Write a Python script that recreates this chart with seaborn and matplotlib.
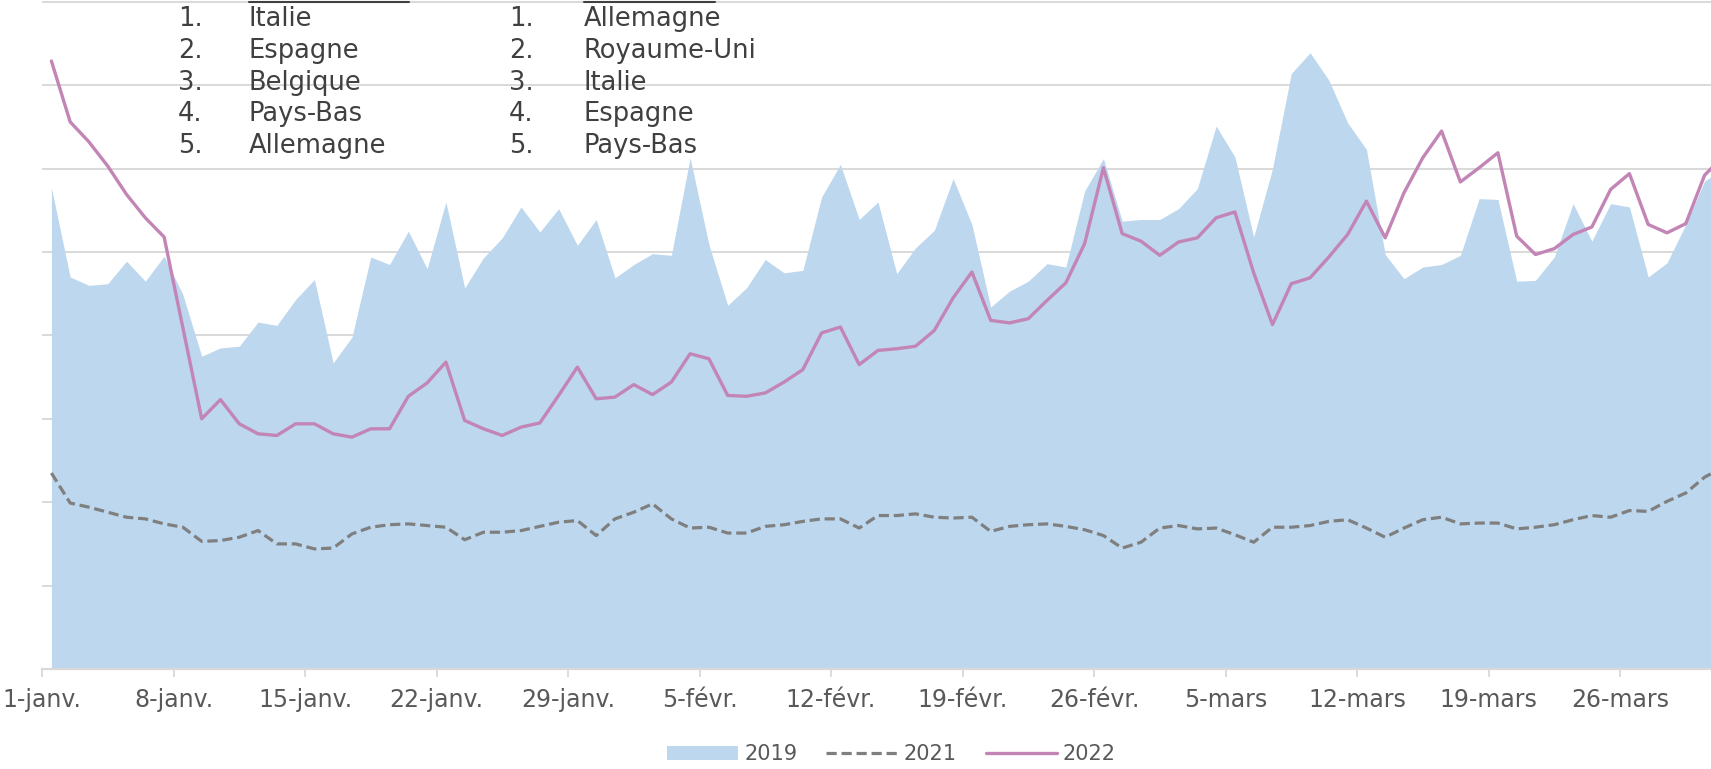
import numpy as np
import pandas as pd
import seaborn as sb
import matplotlib.pyplot as plt
from matplotlib.lines import Line2D
from matplotlib.patches import Patch

# daily values, 1 Jan -> 31 Mar (index 0..89)
v2019 = [5.77, 4.70, 4.60, 4.62, 4.89, 4.65, 4.95, 4.49, 3.75, 3.85,
         3.87, 4.16, 4.12, 4.43, 4.67, 3.67, 3.98, 4.94, 4.85, 5.25,
         4.80, 5.60, 4.57, 4.93, 5.17, 5.54, 5.24, 5.52, 5.08, 5.39,
         4.69, 4.85, 4.98, 4.96, 6.13, 5.09, 4.36, 4.57, 4.91, 4.75,
         4.78, 5.66, 6.05, 5.39, 5.60, 4.74, 5.05, 5.26, 5.88, 5.33,
         4.34, 4.53, 4.65, 4.86, 4.82, 5.73, 6.12, 5.37, 5.39, 5.39,
         5.52, 5.76, 6.51, 6.14, 5.18, 6.00, 7.14, 7.39, 7.06, 6.55,
         6.23, 4.97, 4.68, 4.82, 4.85, 4.96, 5.64, 5.63, 4.65, 4.66,
         4.94, 5.58, 5.13, 5.58, 5.54, 4.70, 4.87, 5.33, 5.85, 6.00]
v2021 = [2.35, 1.99, 1.94, 1.88, 1.82, 1.80, 1.74, 1.70, 1.53, 1.54,
         1.58, 1.66, 1.50, 1.50, 1.44, 1.45, 1.62, 1.70, 1.73, 1.74,
         1.72, 1.70, 1.55, 1.64, 1.64, 1.66, 1.71, 1.76, 1.78, 1.60,
         1.80, 1.88, 1.98, 1.80, 1.69, 1.70, 1.63, 1.63, 1.71, 1.73,
         1.77, 1.80, 1.80, 1.69, 1.84, 1.84, 1.86, 1.82, 1.81, 1.82,
         1.65, 1.71, 1.73, 1.74, 1.71, 1.67, 1.60, 1.45, 1.52, 1.69,
         1.72, 1.68, 1.69, 1.61, 1.52, 1.70, 1.70, 1.72, 1.77, 1.79,
         1.69, 1.58, 1.69, 1.79, 1.82, 1.74, 1.75, 1.75, 1.68, 1.70,
         1.73, 1.79, 1.84, 1.82, 1.90, 1.89, 2.01, 2.11, 2.30, 2.42]
v2022 = [7.29, 6.56, 6.32, 6.03, 5.69, 5.41, 5.18, 4.09, 3.00, 3.23,
         2.94, 2.82, 2.80, 2.94, 2.94, 2.82, 2.78, 2.88, 2.88, 3.27,
         3.43, 3.68, 2.98, 2.88, 2.80, 2.90, 2.95, 3.28, 3.62, 3.24,
         3.26, 3.41, 3.29, 3.44, 3.78, 3.72, 3.28, 3.27, 3.31, 3.44,
         3.59, 4.03, 4.10, 3.65, 3.82, 3.84, 3.87, 4.06, 4.45, 4.76,
         4.18, 4.15, 4.20, 4.42, 4.63, 5.10, 6.01, 5.22, 5.13, 4.96,
         5.12, 5.17, 5.41, 5.48, 4.75, 4.13, 4.62, 4.69, 4.94, 5.21,
         5.61, 5.17, 5.71, 6.13, 6.45, 5.84, 6.01, 6.19, 5.19, 4.97,
         5.04, 5.21, 5.30, 5.75, 5.94, 5.33, 5.23, 5.34, 5.92, 6.15]

tick_days = [0, 7, 14, 21, 28, 35, 42, 49, 56, 63, 70, 77, 84]
tick_labels = ['1-janv.', '8-janv.', '15-janv.', '22-janv.', '29-janv.',
               '5-févr.', '12-févr.', '19-févr.', '26-févr.',
               '5-mars', '12-mars', '19-mars', '26-mars']

top_left = ['Italie', 'Espagne', 'Belgique', 'Pays-Bas', 'Allemagne']
top_right = ['Allemagne', 'Royaume-Uni', 'Italie', 'Espagne', 'Pays-Bas']

# points sit in the middle of each day (Excel category axis)
df = pd.DataFrame({'day': np.arange(len(v2019)) + 0.5,
                   '2019': v2019, '2021': v2021, '2022': v2022})

blue = '#BDD7EE'
grey = '#7F7F7F'
pink = '#C285B6'
grid = '#D9D9D9'
txt = '#595959'

sb.set_style('white')
plt.rcParams['font.family'] = ['DejaVu Sans']

W, H = 1711, 769
fig = plt.figure(figsize=(W / 100, H / 100), dpi=100)
ax = fig.add_axes([42 / W, 100 / H, 1669 / W, 669 / H])

ax.fill_between(df['day'], 0, df['2019'], color=blue, lw=0, zorder=1)
sb.lineplot(data=df, x='day', y='2021', ax=ax, color=grey, lw=2.3,
            linestyle=(0, (3.2, 1.5)), zorder=3)
sb.lineplot(data=df, x='day', y='2022', ax=ax, color=pink, lw=2.4, zorder=4)

ax.set_xlim(0, 1669 / 18.786)
ax.set_ylim(0, 669 / 83.4)
ax.set_yticks(np.arange(0, 9))
ax.set_axisbelow(True)
ax.grid(axis='y', color=grid, lw=1.4)
ax.grid(axis='x', visible=False)
ax.tick_params(axis='y', left=False, labelleft=False)

ax.set_xticks(tick_days)
ax.set_xticklabels(tick_labels)
ax.tick_params(axis='x', bottom=True, length=6, width=1.3, color=grid,
               labelsize=17, labelcolor=txt, pad=8)
ax.set_xlabel('')
ax.set_ylabel('')

sb.despine(ax=ax, left=True)
ax.spines['bottom'].set_color(grid)
ax.spines['bottom'].set_linewidth(1.6)

# ranking lists in the top-left corner
for k, (a, b) in enumerate(zip(top_left, top_right)):
    y = 1 - (19 + 31.8 * k) / H
    fig.text(178 / W, y, f'{k + 1}.', fontsize=18.5, color='#404040', va='center')
    fig.text(249 / W, y, a, fontsize=18.5, color='#404040', va='center')
    fig.text(509 / W, y, f'{k + 1}.', fontsize=18.5, color='#404040', va='center')
    fig.text(584 / W, y, b, fontsize=18.5, color='#404040', va='center')

# underline of the cut-off headers
fig.add_artist(Line2D([249 / W, 409 / W], [1 - 2 / H] * 2, color='#404040', lw=1.5))
fig.add_artist(Line2D([584 / W, 715 / W], [1 - 2 / H] * 2, color='#404040', lw=1.5))

handles = [Patch(color=blue, lw=0),
           Line2D([], [], color=grey, lw=2.3, linestyle=(0, (3.2, 1.5))),
           Line2D([], [], color=pink, lw=2.4)]
leg = fig.legend(handles, ['2019', '2021', '2022'], loc='center',
                 bbox_to_anchor=(0.521, 0.019), ncol=3, frameon=False,
                 fontsize=15, handlelength=3.4, handletextpad=0.3,
                 columnspacing=1.4)
for t in leg.get_texts():
    t.set_color(txt)

fig.savefig('out.png', dpi=100)
